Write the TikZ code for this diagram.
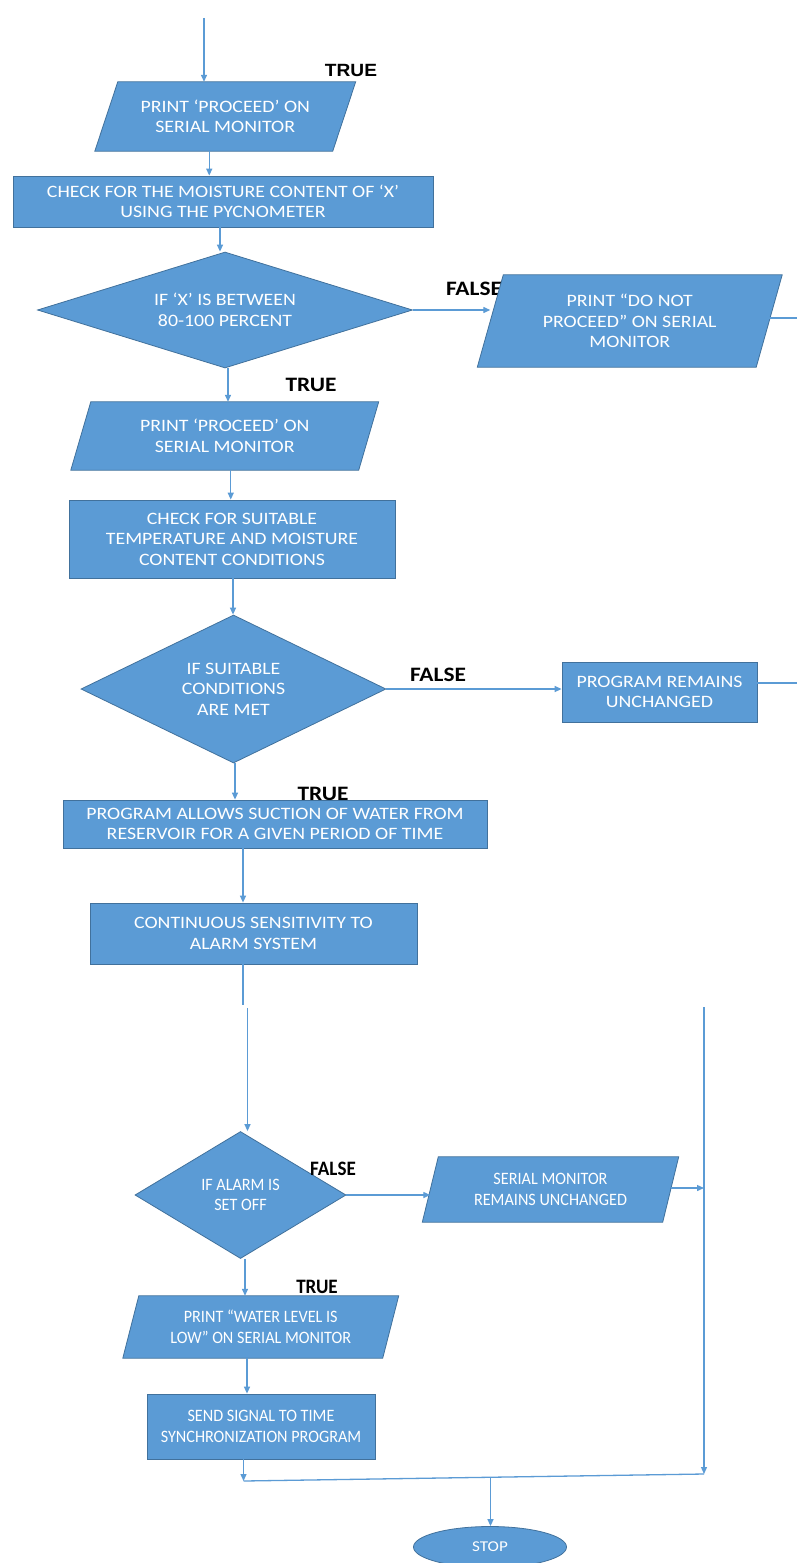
\documentclass[tikz,border=0pt]{standalone}
\usepackage{fontspec}
\setmainfont{Carlito}[FakeStretch=1.14]
\newfontfamily\narrowfont{Carlito}[FakeStretch=0.93]
\newfontfamily\arialfont{Liberation Sans}[FakeStretch=1.08]
\usetikzlibrary{shapes.geometric,arrows.meta,backgrounds}
\definecolor{boxblue}{HTML}{5B9BD5}
\definecolor{boxedge}{HTML}{41719C}
\definecolor{lineblue}{HTML}{5B9BD5}
\begin{document}
\begin{tikzpicture}[x=1pt,y=-1pt,
  txt/.style={text=white,font=\fontsize{17.4}{20.5}\selectfont,align=center,inner sep=0pt},
  narrow/.style={font=\narrowfont\fontsize{17.4}{20.5}\selectfont},
  box/.style={txt,draw=boxedge,fill=boxblue,line width=0.8pt},
  dec/.style={txt,shape=diamond,draw=boxedge,fill=boxblue,line width=0.8pt},
  para/.style={txt},
  pshape/.style={draw=boxedge,fill=boxblue,line width=0.8pt},
  term/.style={shape=ellipse,draw=boxedge,fill=boxblue,line width=0.8pt,text=white,font=\fontsize{15}{17}\selectfont,inner sep=0pt},
  arr/.style={draw=lineblue,line width=1.3pt,-{Triangle[length=7pt,width=6pt]}},
  ln/.style={draw=lineblue,line width=1.3pt},
  lbl/.style={font=\bfseries\fontsize{20.5}{20.5}\selectfont,text=black,inner sep=0pt},
  lbln/.style={font=\narrowfont\bfseries\fontsize{20.5}{20.5}\selectfont,text=black,inner sep=0pt},
  lbla/.style={font=\arialfont\bfseries\fontsize{17.7}{17.7}\selectfont,text=black,inner sep=0pt}]
\useasboundingbox (0,0) rectangle (797,1563);

% ---------- nodes ----------
\node[lbla] (t0) at (351,70) {TRUE};
\node[para,minimum width=237.5,minimum height=69] (p1) at (225.25,116.5) {PRINT ‘PROCEED’ ON\\SERIAL MONITOR};
\node[box,minimum width=420,minimum height=51] (r1) at (223,201.5) {CHECK FOR THE MOISTURE CONTENT OF ‘X’\\USING THE PYCNOMETER};
\node[dec,aspect=3.23,minimum width=375,minimum height=116] (d1) at (225,310) {IF ‘X’ IS BETWEEN\\80-100 PERCENT};
\node[para,minimum width=278.5,minimum height=92] (p2) at (629.75,321) {PRINT “DO NOT\\PROCEED” ON SERIAL\\MONITOR};
\node[lbl] (t1) at (311,385) {TRUE};
\node[para,minimum width=287.5,minimum height=68] (p3) at (224.75,436) {PRINT ‘PROCEED’ ON\\SERIAL MONITOR};
\node[box,minimum width=326,minimum height=78] (r2) at (232,539) {CHECK FOR SUITABLE\\TEMPERATURE AND MOISTURE\\CONTENT CONDITIONS};
\node[dec,aspect=2.06,minimum width=305,minimum height=148] (d2) at (233.5,689) {IF SUITABLE\\CONDITIONS\\ARE MET};
\node[lbl] (f2) at (438,675) {FALSE};
\node[box,minimum width=195,minimum height=60] (r3) at (659.5,692) {PROGRAM REMAINS\\UNCHANGED};
\node[lbl] (t2) at (323,794) {TRUE};
\node[box,minimum width=424,minimum height=48] (r4) at (275,824) {PROGRAM ALLOWS SUCTION OF WATER FROM\\RESERVOIR FOR A GIVEN PERIOD OF TIME};
\node[box,minimum width=327,minimum height=61] (r5) at (253.5,933.5) {CONTINUOUS SENSITIVITY TO\\ALARM SYSTEM};
\node[dec,narrow,aspect=1.66,minimum width=211,minimum height=127] (d3) at (240.5,1195) {IF ALARM IS\\SET OFF};
\node[lbln] (f3) at (333,1169) {FALSE};
\node[para,narrow,minimum width=240,minimum height=65] (p4) at (550.5,1189.5) {SERIAL MONITOR\\REMAINS UNCHANGED};
\node[lbln] (t3) at (317,1287) {TRUE};
\node[para,narrow,minimum width=259.5,minimum height=62] (p5) at (260.75,1327) {PRINT “WATER LEVEL IS\\LOW” ON SERIAL MONITOR};
\node[box,narrow,minimum width=228,minimum height=65] (r6) at (261,1426.5) {SEND SIGNAL TO TIME\\SYNCHRONIZATION PROGRAM};
\node[term,minimum width=153,minimum height=41] (stop) at (490,1547) {STOP};

% ---------- background: white page, parallelogram outlines ----------
\begin{scope}[on background layer]
\fill[white] (0,0) rectangle (797,1563);
\filldraw[pshape] ([xshift=11.5]p1.north west) -- ([xshift=11.5]p1.north east) -- ([xshift=-11.5]p1.south east) -- ([xshift=-11.5]p1.south west) -- cycle;
\node[lbl] (f1) at (474,288.5) {FALSE};
\filldraw[pshape] ([xshift=13]p2.north west) -- ([xshift=13]p2.north east) -- ([xshift=-13]p2.south east) -- ([xshift=-13]p2.south west) -- cycle;
\filldraw[pshape] ([xshift=10]p3.north west) -- ([xshift=10]p3.north east) -- ([xshift=-10]p3.south east) -- ([xshift=-10]p3.south west) -- cycle;
\filldraw[pshape] ([xshift=8]p4.north west) -- ([xshift=8]p4.north east) -- ([xshift=-8]p4.south east) -- ([xshift=-8]p4.south west) -- cycle;
\filldraw[pshape] ([xshift=8]p5.north west) -- ([xshift=8]p5.north east) -- ([xshift=-8]p5.south east) -- ([xshift=-8]p5.south west) -- cycle;
\end{scope}

% ---------- free ends ----------
\coordinate (start) at (204,18);
\coordinate (exit1) at (797,318);
\coordinate (exit2) at (797,683);
\coordinate (brk1) at (243,1005);
\coordinate (brk2) at (247.5,1008);
\coordinate (rtop) at (704,1007);
\coordinate (rj) at (704,1188);
\coordinate (rbot) at (704,1474);
\coordinate (mL) at (243.5,1481);
\coordinate (mS) at (490.5,1477.5);

% ---------- connectors ----------
\draw[arr] (start) -- (start |- p1.north);
\draw[arr] ([xshift=-16]p1.south) -- ([xshift=-16]p1.south |- r1.north);
\draw[arr] ([xshift=-3]r1.south) -- ([xshift=-3]r1.south |- d1.north);
\draw[arr] (d1.east) -- (d1.east -| p2.west);
\draw[ln] (p2.east |- exit1) -- (exit1);
\draw[arr] ([xshift=3]d1.south) -- ([xshift=3]d1.south |- p3.north);
\draw[arr] ([xshift=6]p3.south) -- ([xshift=6]p3.south |- r2.north);
\draw[arr] ([xshift=1]r2.south) -- ([xshift=1]r2.south |- d2.north);
\draw[arr] (d2.east) -- (d2.east -| r3.west);
\draw[ln] (r3.east |- exit2) -- (exit2);
\draw[arr] ([xshift=1.5]d2.south) -- ([xshift=1.5]d2.south |- r4.north);
\draw[arr] ([xshift=-32]r4.south) -- ([xshift=-32]r4.south |- r5.north);
\draw[ln] ([xshift=-10.5]r5.south) -- (brk1);
\draw[arr] (brk2) -- (brk2 |- d3.north);
\draw[arr] (d3.east) -- (d3.east -| p4.west);
\draw[arr] (rtop) -- (rbot);
\draw[arr] (p4.east |- rj) -- (rj);
\draw[arr] ([xshift=4.5]d3.south) -- ([xshift=4.5]d3.south |- p5.north);
\draw[arr] ([xshift=-13.75]p5.south) -- ([xshift=-13.75]p5.south |- r6.north);
\draw[arr] ([xshift=-17.5]r6.south) -- (mL);
\draw[ln] (mL) -- (rbot);
\draw[arr] (mS) -- (mS |- stop.north);
\end{tikzpicture}
\end{document}
